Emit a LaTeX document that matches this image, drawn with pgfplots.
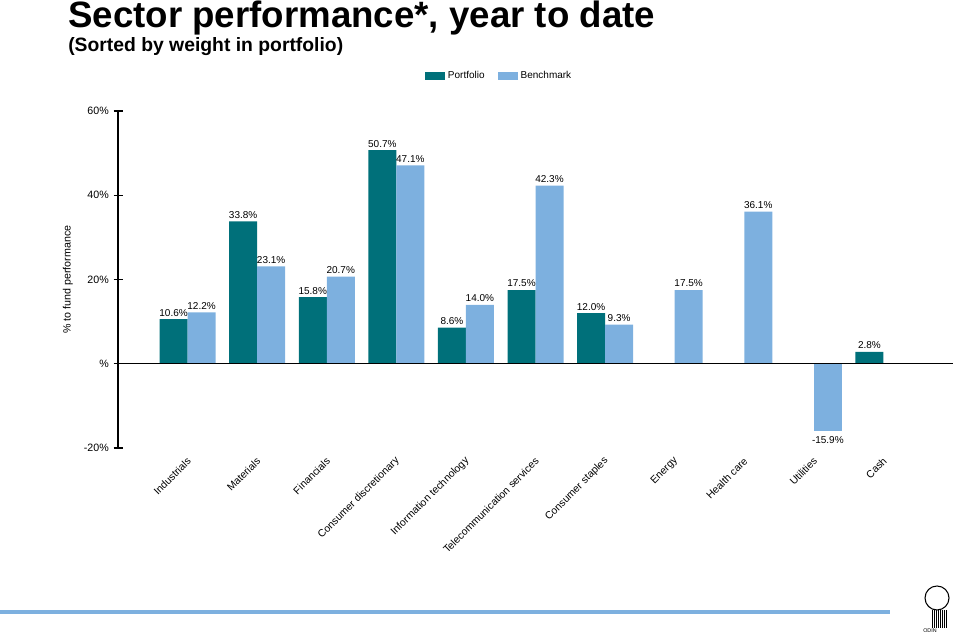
\documentclass[border=0pt]{standalone}
\usepackage{pgfplots}
\pgfplotsset{compat=1.18}
\usepackage{fontspec}
\setmainfont{Liberation Sans}
\definecolor{teal1}{HTML}{00707A}
\definecolor{blue1}{HTML}{7DB0DF}
\begin{document}
\begin{tikzpicture}[x=0.75pt,y=0.75pt]
\useasboundingbox (0,0) rectangle (960,634);
\node[anchor=base west,inner sep=0pt,font=\fontsize{27.5}{30}\selectfont\bfseries] at (68,606) {Sector performance*, year to date};
\node[anchor=base west,inner sep=0pt,font=\fontsize{14.5}{16}\selectfont\bfseries] at (68,582) {(Sorted by weight in portfolio)};
\begin{axis}[
  at={(88.5pt,139.5pt)}, anchor=south west,
  scale only axis, width=626.25pt, height=252.75pt,
  xmin=-1, xmax=11, ymin=-20, ymax=60,
  axis y line=left, axis x line=bottom,
  x axis line style={draw=none},
  y axis line style={-, line width=0.9pt},
  xtick={0,1,2,3,4,5,6,7,8,9,10},
  xticklabels={Industrials,Materials,Financials,Consumer discretionary,Information technology,Telecommunication services,Consumer staples,Energy,Health care,Utilities,Cash},
  x tick style={draw=none},
  xticklabel style={rotate=45, anchor=east, font=\fontsize{7.8}{9}\selectfont, xshift=3pt, yshift=-2pt},
  ytick={-20,0,20,40,60},
  yticklabels={-20\%,\%,20\%,40\%,60\%},
  yticklabel style={font=\fontsize{8}{9}\selectfont},
  y tick style={line width=0.9pt, black},
  tick align=center, major tick length=6.75pt,
  ylabel={\% to fund performance},
  ylabel style={at={(axis description cs:-0.06,0.5)}, anchor=center, font=\fontsize{8}{9}\selectfont},
  ybar, bar width=21pt,
  nodes near coords, point meta=explicit symbolic,
  every node near coord/.append style={font=\fontsize{7.5}{9}\selectfont, inner sep=2pt},
  legend style={draw=none, at={(axis description cs:0.457,1.104)}, anchor=center, legend columns=2, font=\fontsize{7.5}{9}\selectfont, /tikz/every even column/.append style={column sep=8pt}},
  legend image code/.code={\fill[#1] (0pt,-3pt) rectangle (15pt,3pt);},
  clip=false,
]
\addplot[fill=teal1, draw=none, bar shift=-10.5pt] coordinates {
 (0,10.6) [10.6\%] (1,33.8) [33.8\%] (2,15.8) [15.8\%] (3,50.7) [50.7\%] (4,8.6) [8.6\%] (5,17.5) [17.5\%] (6,12.0) [12.0\%] (10,2.8) [2.8\%]};
\addplot[fill=blue1, draw=none, bar shift=10.5pt] coordinates {
 (0,12.2) [12.2\%] (1,23.1) [23.1\%] (2,20.7) [20.7\%] (3,47.1) [47.1\%] (4,14.0) [14.0\%] (5,42.3) [42.3\%] (6,9.3) [9.3\%] (7,17.5) [17.5\%] (8,36.1) [36.1\%]};
\legend{Portfolio,Benchmark}
\addplot[fill=blue1, draw=none, bar shift=10.5pt, forget plot, every node near coord/.append style={anchor=north, yshift=-2pt}] coordinates {
 (9,-15.9) [-15.9\%]};
\draw[line width=0.9pt] (axis cs:-1,0) -- (axis cs:11,0);
\end{axis}
\draw[blue1, line width=3pt] (0,22) -- (890,22);
\draw[line width=0.8pt] (937,36) circle (12);
\foreach \i in {0,...,7} {\draw[line width=0.6pt] (932+\i*2,24) -- (932+\i*2,6);}
\node[font=\fontsize{4}{5}\selectfont, anchor=base] at (930,1) {ODIN};
\end{tikzpicture}
\end{document}
